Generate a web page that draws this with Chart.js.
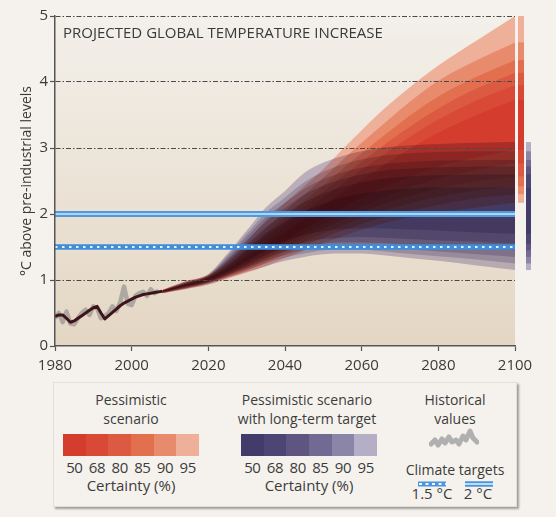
<!DOCTYPE html>
<html><head><meta charset="utf-8">
<script src="https://cdn.jsdelivr.net/npm/chart.js@4.4.1/dist/chart.umd.min.js"></script>
<style>
body{margin:0;background:#f5f2ed;width:556px;height:517px;position:relative;overflow:hidden;font-family:"Open Sans",sans-serif;color:#3c3c3c}
#wrap{position:absolute;left:0;top:0;width:556px;height:375px}
#legend{position:absolute;left:53px;top:382px;width:462px;height:123px;background:#f5f2ed;border:1px solid #e2ded8;box-shadow:2px 2px 2px rgba(0,0,0,0.35)}
.t{position:absolute;font-size:14px;line-height:19px;text-align:center;white-space:nowrap;width:200px}
.c15{font-size:15px}
.sw{position:absolute;display:flex;height:22px;width:136px}
.sw span{flex:1}
.nums{position:absolute;display:flex;width:136px;font-size:15px;line-height:19px}
.nums span{flex:1;text-align:center;letter-spacing:-0.4px}
svg{position:absolute}
</style>
</head><body>
<div id="wrap"><canvas id="c" width="556" height="375"></canvas></div>
<div id="legend">
  <div class="t" style="left:-23px;top:7px">Pessimistic<br>scenario</div>
  <div class="sw" id="swR" style="left:9px;top:51px"></div>
  <div class="nums" id="numR" style="left:9px;top:75px"></div>
  <div class="t c15" style="left:-23px;top:93px">Certainty (%)</div>

  <div class="t" style="left:153px;top:7px">Pessimistic scenario<br>with long-term target</div>
  <div class="sw" id="swB" style="left:187px;top:51px"></div>
  <div class="nums" id="numB" style="left:187px;top:75px"></div>
  <div class="t c15" style="left:155px;top:93px">Certainty (%)</div>

  <div class="t" style="left:301px;top:7px">Historical<br>values</div>
  <svg width="50" height="26" style="left:375px;top:44px"><path d="M2,17 L6,13 L9,18 L13,12 L16,16 L20,10 L23,15 L27,13 L30,17 L34,9 L37,13 L41,4 L44,11 L48,15" fill="none" stroke="#b0b0b0" stroke-width="5" stroke-linejoin="round" stroke-linecap="round"/></svg>
  <div class="t" style="left:301px;top:77px">Climate targets</div>
  <svg width="30" height="8" style="left:363px;top:97px"><line x1="1" y1="4" x2="29" y2="4" stroke="#4a95dd" stroke-width="5"/><line x1="2" y1="4" x2="29" y2="4" stroke="#eef6ff" stroke-width="1.8" stroke-dasharray="3 3.5"/></svg>
  <svg width="30" height="8" style="left:410px;top:97px"><line x1="1" y1="4" x2="29" y2="4" stroke="#4a95dd" stroke-width="5.5"/><line x1="1" y1="4" x2="29" y2="4" stroke="#f2f8ff" stroke-width="1.4"/></svg>
  <div class="t c15" style="left:278px;top:101px">1.5 °C</div>
  <div class="t c15" style="left:324px;top:101px">2 °C</div>
</div>
<script>
// ---------- data ----------
const titleText = 'PROJECTED GLOBAL TEMPERATURE INCREASE';
const yTitle = '°C above pre-industrial levels';
const levels = ['95', '90', '85', '80', '68', '50'];

// historical observations (grey)
const histYears = [1980,1981,1982,1983,1984,1985,1986,1987,1988,1989,1990,1991,1992,1993,1994,1995,1996,1997,1998,1999,2000,2001,2002,2003,2004,2005,2006,2007];
const histValues = [0.42,0.50,0.36,0.52,0.34,0.33,0.42,0.50,0.55,0.47,0.60,0.57,0.42,0.45,0.50,0.60,0.53,0.66,0.90,0.64,0.62,0.76,0.80,0.82,0.76,0.86,0.80,0.84];

// model hindcast (dark line)
const hindYears = [1980,1981,1982,1983,1984,1985,1986,1987,1988,1989,1990,1991,1992,1993,1994,1995,1996,1997,1998,1999,2000,2001,2002,2003,2004,2005,2006,2007,2008];
const hindValues = [0.45,0.47,0.47,0.42,0.36,0.38,0.42,0.46,0.50,0.54,0.58,0.60,0.50,0.41,0.46,0.51,0.56,0.61,0.65,0.68,0.71,0.74,0.76,0.78,0.79,0.80,0.81,0.82,0.83];

// projection fans
const bandYears = [2008,2014,2020,2025,2030,2035,2040,2045,2050,2055,2060,2065,2070,2080,2090,2100];

// pessimistic scenario (red)
const r95u = [0.85,0.98,1.08,1.30,1.58,1.90,2.17,2.42,2.68,2.98,3.27,3.55,3.80,4.25,4.63,5.00];
const r90u = [0.85,0.97,1.07,1.26,1.51,1.78,2.04,2.29,2.55,2.82,3.08,3.33,3.58,4.02,4.33,4.60];
const r85u = [0.84,0.96,1.06,1.23,1.46,1.71,1.95,2.19,2.43,2.68,2.92,3.15,3.38,3.78,4.08,4.33];
const r80u = [0.84,0.95,1.05,1.20,1.42,1.65,1.88,2.11,2.34,2.57,2.79,3.01,3.22,3.60,3.90,4.14];
const r68u = [0.84,0.94,1.04,1.18,1.38,1.59,1.81,2.03,2.25,2.46,2.67,2.87,3.07,3.43,3.72,3.95];
const r50u = [0.83,0.93,1.03,1.16,1.34,1.53,1.73,1.93,2.13,2.33,2.52,2.71,2.90,3.23,3.50,3.73];
const r50l = [0.82,0.91,1.00,1.12,1.27,1.43,1.60,1.77,1.93,2.09,2.24,2.38,2.50,2.72,2.86,2.97];
const r68l = [0.82,0.90,0.98,1.10,1.23,1.38,1.54,1.70,1.85,1.99,2.12,2.24,2.35,2.54,2.67,2.77];
const r80l = [0.81,0.89,0.97,1.08,1.20,1.34,1.49,1.64,1.78,1.91,2.03,2.14,2.23,2.39,2.50,2.57];
const r85l = [0.81,0.88,0.96,1.06,1.17,1.30,1.44,1.58,1.71,1.83,1.94,2.04,2.12,2.26,2.36,2.42];
const r90l = [0.80,0.87,0.95,1.04,1.14,1.26,1.39,1.52,1.64,1.75,1.85,1.94,2.01,2.14,2.24,2.30];
const r95l = [0.80,0.86,0.93,1.02,1.11,1.21,1.33,1.45,1.56,1.66,1.76,1.85,1.92,2.02,2.10,2.17];

// pessimistic scenario with long-term target (blue)
const b95u = [0.85,0.98,1.09,1.40,1.75,2.10,2.35,2.62,2.78,2.88,2.95,3.00,3.03,3.06,3.08,3.09];
const b90u = [0.85,0.97,1.08,1.37,1.70,2.02,2.25,2.48,2.64,2.75,2.83,2.88,2.91,2.94,2.95,2.95];
const b85u = [0.84,0.96,1.07,1.34,1.65,1.95,2.17,2.38,2.53,2.63,2.70,2.75,2.78,2.81,2.82,2.82];
const b80u = [0.84,0.95,1.06,1.31,1.60,1.88,2.09,2.29,2.43,2.53,2.60,2.65,2.68,2.71,2.72,2.72];
const b68u = [0.84,0.94,1.05,1.27,1.54,1.80,2.00,2.18,2.31,2.41,2.48,2.53,2.56,2.59,2.60,2.60];
const b50u = [0.83,0.93,1.03,1.22,1.46,1.70,1.88,2.04,2.16,2.25,2.31,2.35,2.38,2.40,2.40,2.40];
const b50l = [0.82,0.91,1.00,1.13,1.29,1.45,1.58,1.68,1.74,1.77,1.78,1.78,1.77,1.75,1.72,1.70];
const b68l = [0.82,0.90,0.98,1.10,1.24,1.38,1.49,1.57,1.62,1.64,1.65,1.64,1.63,1.60,1.58,1.55];
const b80l = [0.81,0.89,0.97,1.08,1.20,1.33,1.43,1.50,1.55,1.57,1.57,1.56,1.54,1.50,1.48,1.45];
const b85l = [0.81,0.88,0.96,1.07,1.18,1.29,1.38,1.45,1.50,1.52,1.52,1.50,1.48,1.43,1.39,1.35];
const b90l = [0.80,0.87,0.95,1.05,1.15,1.25,1.34,1.40,1.45,1.46,1.46,1.44,1.41,1.36,1.31,1.25];
const b95l = [0.80,0.86,0.93,1.03,1.12,1.21,1.29,1.35,1.39,1.40,1.40,1.38,1.35,1.29,1.22,1.15];

// climate targets
const targetYears = [1980, 2100];
const target2 = [2, 2];
const target15 = [1.5, 1.5];

// colours (index matches levels: 95 ... 50)
const redColors  = ['#efb09a','#e88a6c','#e2704f','#dd5a42','#d94a36','#d43c2d'];
const blueColors = ['#cbc4dd','#a8a1c2','#8b83aa','#706894','#5b5384','#4a4275'];
const blueLegend = ['#b4aec7','#8b85a7','#716a92','#5e5681','#4d4573','#433b69'];

// ---------- legend (HTML) ----------
function fillLegend(swId, numId, cols){
  const sw = document.getElementById(swId), nm = document.getElementById(numId);
  for (let k = levels.length - 1; k >= 0; k--) {
    const s = document.createElement('span'); s.style.background = cols[k]; sw.appendChild(s);
    const n = document.createElement('span'); n.textContent = levels[k]; nm.appendChild(n);
  }
}
fillLegend('swR','numR',redColors);
fillLegend('swB','numB',blueLegend);

// blue bands are multiplied: each nested band carries the ratio to the band outside it
const hex = h => [1,3,5].map(i => parseInt(h.slice(i, i + 2), 16));
const blueFactors = blueColors.map((c, k) => {
  if (k === 0) return c;
  const a = hex(blueColors[k - 1]), b = hex(c);
  return 'rgb(' + b.map((v, i) => Math.min(255, Math.round(v / a[i] * 255))).join(',') + ')';
});

// ---------- datasets ----------
const pts = (xs, ys) => xs.map((x, i) => ({x: x, y: ys[i]}));
const redUpper = [r95u,r90u,r85u,r80u,r68u,r50u];
const redLower = [r95l,r90l,r85l,r80l,r68l,r50l];
const blueUpper = [b95u,b90u,b85u,b80u,b68u,b50u];
const blueLower = [b95l,b90l,b85l,b80l,b68l,b50l];

const base = {borderWidth:0, borderColor:'rgba(0,0,0,0)', pointRadius:0, cubicInterpolationMode:'monotone'};
const datasets = [];
for (let k = 0; k < 6; k++) {
  const i = datasets.length;
  datasets.push(Object.assign({}, base, {data: pts(bandYears, redUpper[k]), fill: i + 1, backgroundColor: redColors[k], order: 100 - k}));
  datasets.push(Object.assign({}, base, {data: pts(bandYears, redLower[k]), fill: false, order: 100 - k}));
}
for (let k = 0; k < 6; k++) {
  const i = datasets.length;
  datasets.push(Object.assign({}, base, {data: pts(bandYears, blueUpper[k]), fill: i + 1, backgroundColor: blueFactors[k], order: 60 - k, blend: 'multiply'}));
  datasets.push(Object.assign({}, base, {data: pts(bandYears, blueLower[k]), fill: false, order: 60 - k, blend: 'multiply'}));
}
datasets.push({data: pts(histYears, histValues), borderColor:'rgba(135,135,135,0.6)', borderWidth:4.5, pointRadius:0, fill:false, order:4, borderJoinStyle:'round'});
datasets.push({data: pts(hindYears, hindValues), borderColor:'#3d1519', borderWidth:3, pointRadius:0, fill:false, order:3, borderJoinStyle:'round'});
datasets.push({data: pts(targetYears, target2), borderColor:'#4d9ae0', borderWidth:6, pointRadius:0, fill:false, order:2});
datasets.push({data: pts(targetYears, target2), borderColor:'#d3e7f8', borderWidth:1.5, pointRadius:0, fill:false, order:1});
datasets.push({data: pts(targetYears, target15), borderColor:'#3f8edb', borderWidth:5.5, pointRadius:0, fill:false, order:2});
datasets.push({data: pts(targetYears, target15), borderColor:'rgba(236,245,255,0.95)', borderWidth:2, borderDash:[2.5,4.5], pointRadius:0, fill:false, order:1});

// ---------- plugins ----------
const bgPlugin = {
  id:'bg',
  beforeDraw(chart){
    const {ctx, chartArea:a} = chart;
    const g = ctx.createLinearGradient(0, a.top, 0, a.bottom);
    g.addColorStop(0, '#f3f0ea'); g.addColorStop(1, '#e4d6c3');
    ctx.save(); ctx.fillStyle = g; ctx.fillRect(a.left, a.top, a.right - a.left, a.bottom - a.top); ctx.restore();
  }
};
const blendPlugin = {
  id:'blend',
  beforeDatasetsDraw(chart){
    const m = chart.getSortedVisibleDatasetMetas();
    const first = m[m.length - 1];
    chart.ctx.globalCompositeOperation = (first && chart.data.datasets[first.index].blend) || 'source-over';
  },
  afterDatasetDraw(chart, args){
    const m = chart.getSortedVisibleDatasetMetas();
    const p = m.indexOf(args.meta);
    const nx = m[p - 1];
    chart.ctx.globalCompositeOperation = (nx && chart.data.datasets[nx.index].blend) || 'source-over';
  },
  afterDatasetsDraw(chart){ chart.ctx.globalCompositeOperation = 'source-over'; }
};
const sidePlugin = {
  id:'side',
  afterDraw(chart){
    const {ctx, scales:{x, y}} = chart;
    const xr = x.getPixelForValue(bandYears[bandYears.length - 1]);
    const last = a => a[a.length - 1];
    ctx.save(); ctx.globalCompositeOperation = 'source-over';
    for (let k = 0; k < 6; k++) {
      const t = y.getPixelForValue(last(redUpper[k])), b = y.getPixelForValue(last(redLower[k]));
      ctx.fillStyle = redColors[k]; ctx.fillRect(xr + 3, t, 6, b - t);
    }
    for (let k = 0; k < 6; k++) {
      const t = y.getPixelForValue(last(blueUpper[k])), b = y.getPixelForValue(last(blueLower[k]));
      ctx.fillStyle = blueLegend[k]; ctx.fillRect(xr + 11, t, 5, b - t);
    }
    const a = chart.chartArea;
    ctx.font = '15px "Open Sans"'; ctx.fillStyle = '#3a3a3a'; ctx.textBaseline = 'alphabetic';
    ctx.fillText(titleText, a.left + 8, a.top + 22);
    ctx.restore();
  }
};

const tickFont = {family:'Open Sans', size:15};
new Chart(document.getElementById('c'), {
  type:'line',
  data:{datasets},
  options:{
    responsive:false, animation:false,
    layout:{padding:{left:0, top:16, right:41, bottom:0}},
    plugins:{legend:{display:false}, tooltip:{enabled:false}, filler:{propagate:false}},
    scales:{
      x:{type:'linear', min:1980, max:2100,
        ticks:{stepSize:20, callback:v => String(v), font:tickFont, color:'#3a3a3a', padding:6, maxRotation:0},
        grid:{drawOnChartArea:false, drawTicks:true, tickLength:5, tickColor:'#555', tickWidth:1.2, z:2},
        border:{color:'#555', width:1.5, z:2},
        afterFit:s => { s.height = 29; }
      },
      y:{type:'linear', min:0, max:5,
        ticks:{stepSize:1, font:tickFont, color:'#3a3a3a', padding:2},
        grid:{color:c => (c.tick && (c.tick.value === 0 || c.tick.value === 2)) ? 'rgba(0,0,0,0)' : '#4a4a4a',
              lineWidth:1, drawTicks:true, tickLength:5, tickColor:'#555', tickWidth:1.2, tickBorderDash:[], z:1},
        border:{color:'#555', width:1.5, dash:[5,2,1.5,2], z:2},
        title:{display:true, text:yTitle, font:{family:'Open Sans', size:14}, color:'#3a3a3a', padding:{top:19, bottom:0}},
        afterFit:s => { s.width = 55; }
      }
    }
  },
  plugins:[bgPlugin, blendPlugin, sidePlugin]
});
</script>
</body></html>
